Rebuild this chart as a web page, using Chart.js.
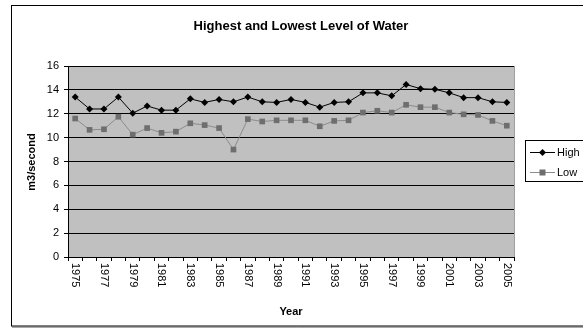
<!DOCTYPE html>
<html>
<head>
<meta charset="utf-8">
<script src="https://cdn.jsdelivr.net/npm/chart.js@4"></script>
<style>
  html, body { margin: 0; padding: 0; background: #fff; }
  #wrap { width: 583px; height: 328px; }
</style>
</head>
<body>
<div id="wrap"><canvas id="chart" width="583" height="328"></canvas></div>
<script>
const years = ["1975","1976","1977","1978","1979","1980","1981","1982","1983","1984",
   "1985","1986","1987","1988","1989","1990","1991","1992","1993","1994",
   "1995","1996","1997","1998","1999","2000","2001","2002","2003","2004","2005"]
const high = [13.4, 12.4, 12.4, 13.4, 12.05, 12.65, 12.3, 12.3, 13.25, 12.95,
   13.2, 13.0, 13.4, 13.0, 12.95, 13.2, 12.95, 12.55, 12.95, 13.0,
   13.75, 13.75, 13.5, 14.45, 14.1, 14.05, 13.75, 13.35, 13.35, 13.0, 12.95]
const low = [11.6, 10.65, 10.7, 11.75, 10.25, 10.8, 10.4, 10.5, 11.2, 11.05,
   10.8, 9.0, 11.55, 11.35, 11.45, 11.45, 11.45, 10.95, 11.4, 11.45,
   12.1, 12.25, 12.1, 12.75, 12.55, 12.55, 12.1, 11.95, 11.9, 11.4, 11.0]
const yTicks = [0, 2, 4, 6, 8, 10, 12, 14, 16]

const title = "Highest and Lowest Level of Water"
const xTitle = "Year"
const yTitle = "m3/second"
const font = "'Liberation Sans', Arial, sans-serif"

// frame, plot background, titles, rotated year labels and boxed legend
const decor = {
   id: "decor",
   beforeDraw(chart) {
      const { ctx, chartArea: a } = chart
      ctx.save()
      ctx.fillStyle = "#c0c0c0"
      ctx.fillRect(a.left, a.top, a.right - a.left, a.bottom - a.top)
      ctx.strokeStyle = "#000"
      ctx.lineWidth = 1
      ctx.strokeRect(11.5, 5.5, 600, 320.5)
      ctx.strokeStyle = "#555"
      ctx.beginPath()
      ctx.moveTo(12, 327)
      ctx.lineTo(583, 327)
      ctx.stroke()
      ctx.restore()
   },
   afterDraw(chart) {
      const { ctx, chartArea: a } = chart
      const xs = chart.scales.x
      ctx.save()
      ctx.strokeStyle = "#a0a0a0"
      ctx.beginPath()
      ctx.moveTo(a.right + 0.5, a.top)
      ctx.lineTo(a.right + 0.5, a.bottom)
      ctx.stroke()

      ctx.fillStyle = "#000"
      ctx.textAlign = "center"
      ctx.textBaseline = "middle"
      ctx.font = "bold 13px " + font
      ctx.fillText(title, 301, 26)
      ctx.font = "bold 11px " + font
      ctx.fillText(xTitle, (a.left + a.right) / 2, 312)
      ctx.save()
      ctx.translate(32, 162)
      ctx.rotate(-Math.PI / 2)
      ctx.fillText(yTitle, 0, 0)
      ctx.restore()

      ctx.font = "11px " + font
      ctx.textAlign = "left"
      years.forEach((y, i) => {
         if (i % 2) return
         ctx.save()
         ctx.translate(xs.getPixelForValue(i), a.bottom + 6)
         ctx.rotate(Math.PI / 2)
         ctx.fillText(y, 0, 0)
         ctx.restore()
      })

      // legend
      ctx.strokeStyle = "#000"
      ctx.strokeRect(525.5, 140.5, 70, 41)
      const rows = [152.5, 172.5]
      chart.data.datasets.forEach((ds, i) => {
         const yy = rows[i]
         ctx.strokeStyle = ds.borderColor
         ctx.lineWidth = 1
         ctx.beginPath()
         ctx.moveTo(530, yy)
         ctx.lineTo(555, yy)
         ctx.stroke()
         ctx.fillStyle = ds.pointBackgroundColor
         if (ds.pointStyle === "rectRot") {
            ctx.beginPath()
            ctx.moveTo(542.5, yy - 3.5)
            ctx.lineTo(546, yy)
            ctx.lineTo(542.5, yy + 3.5)
            ctx.lineTo(539, yy)
            ctx.closePath()
            ctx.fill()
         } else {
            ctx.fillRect(539.5, yy - 3, 6, 6)
         }
         ctx.fillStyle = "#000"
         ctx.font = "11px " + font
         ctx.textBaseline = "middle"
         ctx.fillText(ds.label, 557, yy)
      })
      ctx.restore()
   }
}

new Chart(document.getElementById("chart"), {
   type: "line",
   data: {
      labels: years,
      datasets: [{
         label: "High",
         data: high,
         borderColor: "#000",
         borderWidth: 1,
         pointStyle: "rectRot",
         pointRadius: 3.5,
         pointBackgroundColor: "#000",
         pointBorderColor: "#000",
         pointBorderWidth: 0,
         tension: 0
      }, {
         label: "Low",
         data: low,
         borderColor: "#8c8c8c",
         borderWidth: 1,
         pointStyle: "rect",
         pointRadius: 4,
         pointBackgroundColor: "#6e6e6e",
         pointBorderColor: "#6e6e6e",
         pointBorderWidth: 0,
         tension: 0
      }]
   },
   options: {
      responsive: false,
      animation: false,
      events: [],
      layout: { padding: { left: 11, top: 66, right: 69, bottom: 0 } },
      plugins: {
         legend: { display: false },
         tooltip: { enabled: false }
      },
      scales: {
         x: {
            offset: true,
            afterFit: (s) => { s.height = 71 },
            grid: {
               offset: true,
               drawOnChartArea: false,
               drawTicks: true,
               tickLength: 4,
               color: "#000"
            },
            border: { display: true, color: "#000" },
            ticks: { display: false }
         },
         y: {
            min: 0,
            max: 16,
            afterFit: (s) => { s.width = 57 },
            afterBuildTicks: (s) => { s.ticks = yTicks.map(v => ({ value: v })) },
            grid: {
               color: "#000",
               lineWidth: 1,
               tickLength: 4
            },
            border: { display: true, color: "#000" },
            ticks: {
               color: "#000",
               padding: 5,
               font: { family: font, size: 11 }
            }
         }
      }
   },
   plugins: [decor]
})
</script>
</body>
</html>
